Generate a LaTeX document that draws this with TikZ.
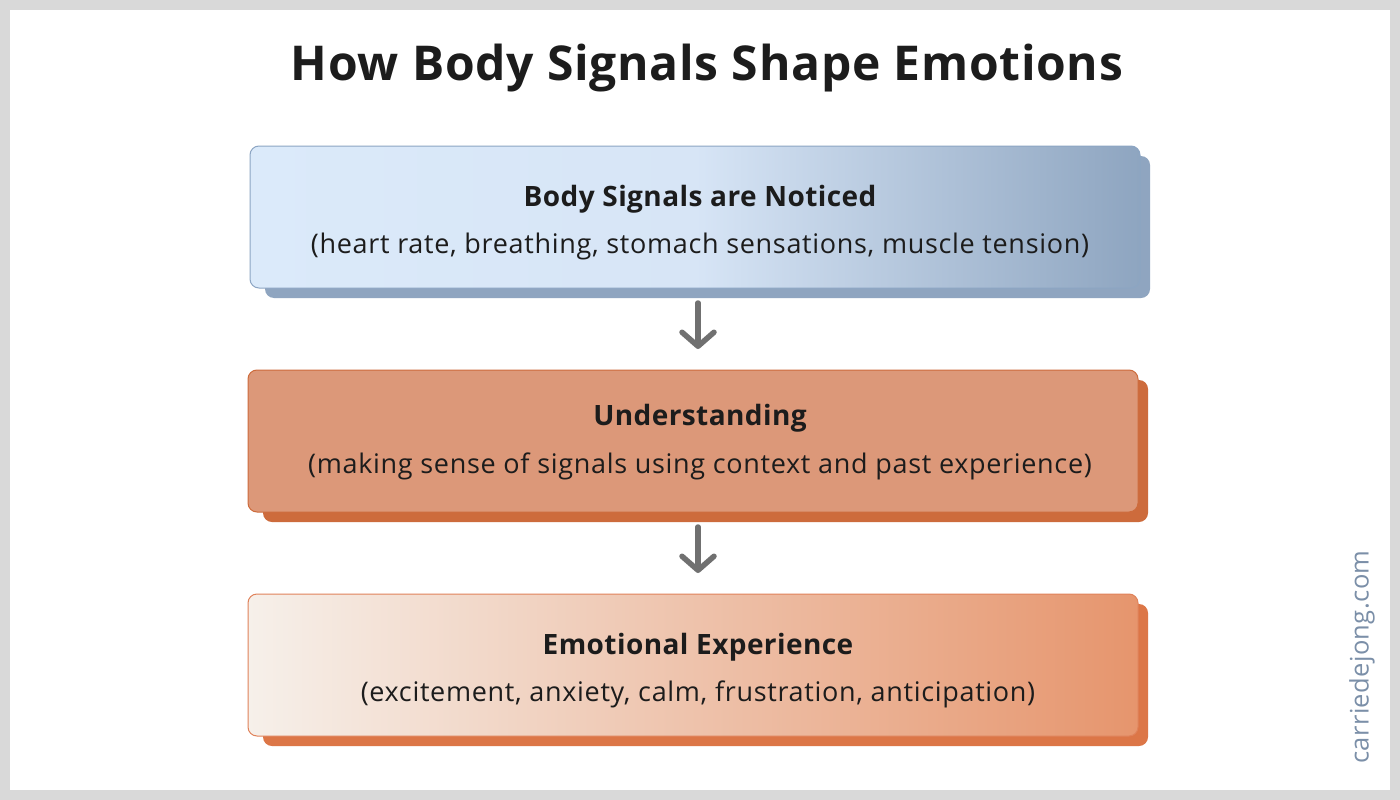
\documentclass[tikz,border=0pt]{standalone}
\usepackage{fontspec}
\setmainfont{Open Sans}
\usetikzlibrary{arrows.meta}
\begin{document}
\begin{tikzpicture}[x=1pt,y=-1pt,
 box/.style={rounded corners=9pt,line width=1pt},
 arr/.style={line width=5.5pt,draw={rgb,255:red,112;green,112;blue,112},-{Straight Barb[length=14pt,width=32pt,line cap=round,line join=round]},line cap=round},
 head/.style={font=\addfontfeature{LetterSpace=1.5}\bfseries\fontsize{28}{32}\selectfont,text={rgb,255:red,28;green,28;blue,28}},
 sub/.style={font=\addfontfeature{LetterSpace=2.5}\fontsize{27}{30}\selectfont,text={rgb,255:red,28;green,28;blue,28}}]
\definecolor{bord}{RGB}{217,217,217}
\fill[bord] (0,0) rectangle (1400,800);
\fill[white] (10,10) rectangle (1390,790);
\useasboundingbox (0,0) rectangle (1400,800);
\node[font=\addfontfeature{LetterSpace=1.5}\bfseries\fontsize{48}{54}\selectfont,text={rgb,255:red,28;green,28;blue,28}] (title) at (707,68) {How Body Signals Shape Emotions};
% box 1
\fill[box,fill={rgb,255:red,143;green,165;blue,192}] (265,156) rectangle (1150,298);
\shade[box,left color={rgb,255:red,219;green,234;blue,250},right color={rgb,255:red,142;green,165;blue,192},middle color={rgb,255:red,215;green,229;blue,246},draw={rgb,255:red,140;green,165;blue,195}] (250,146) rectangle (1140,288);
\node[head] (h1) at (700,199) {Body Signals are Noticed};
\node[sub] (s1) at (700,246) {(heart rate, breathing, stomach sensations, muscle tension)};
% box 2
\fill[box,fill={rgb,255:red,205;green,107;blue,60}] (263,380) rectangle (1148,522);
\filldraw[box,fill={rgb,255:red,220;green,152;blue,121},draw={rgb,255:red,205;green,107;blue,60}] (248,370) rectangle (1138,512);
\node[head] (h2) at (700,418) {Understanding};
\node[sub] (s2) at (700,466) {(making sense of signals using context and past experience)};
% box 3
\fill[box,fill={rgb,255:red,220;green,118;blue,71}] (263,604) rectangle (1148,746);
\shade[box,left color={rgb,255:red,246;green,240;blue,234},right color={rgb,255:red,230;green,149;blue,109},draw={rgb,255:red,224;green,130;blue,90}] (248,594) rectangle (1138,736);
\node[head] (h3) at (698,647) {Emotional Experience};
\node[sub] (s3) at (698,694) {(excitement, anxiety, calm, frustration, anticipation)};
\coordinate (a1s) at (698,303); \coordinate (a1e) at (698,349);
\coordinate (a2s) at (698,527); \coordinate (a2e) at (698,573);
\draw[arr] (a1s) -- (a1e);
\draw[arr] (a2s) -- (a2e);
\node[rotate=90,font=\addfontfeature{LetterSpace=1.5}\fontsize{25.5}{28}\selectfont,text={rgb,255:red,123;green,143;blue,168}] (web) at (1362,657) {carriedejong.com};
\end{tikzpicture}
\end{document}
